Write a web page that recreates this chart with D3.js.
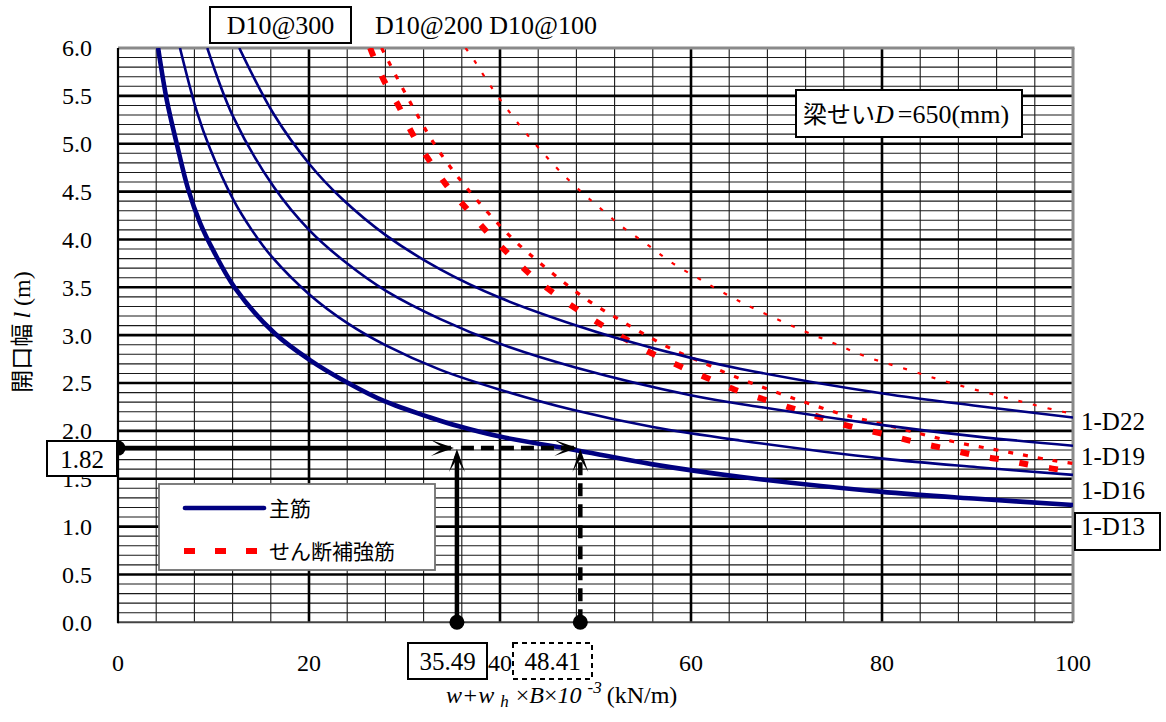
<!DOCTYPE html>
<html>
<head>
<meta charset="utf-8">
<script src="https://cdn.jsdelivr.net/npm/d3@7"></script>
<style>
  html, body { margin: 0; padding: 0; background: #fff; }
  svg { display: block; }
</style>
</head>
<body>
<svg id="chart" width="1166" height="722"></svg>
<script>
// Axis tick labels
const xTickValues = [0, 20, 40, 60, 80, 100];
const xTickLabels = ["0", "20", "40", "60", "80", "100"];
const yTickValues = [0, 0.5, 1, 1.5, 2, 2.5, 3, 3.5, 4, 4.5, 5, 5.5, 6];
const yTickLabels = ["0.0", "0.5", "1.0", "1.5", "2.0", "2.5", "3.0", "3.5", "4.0", "4.5", "5.0", "5.5", "6.0"];

// Main bar curves [load w (kN/m), opening width l (m)]
const mainD13 = [[4.2, 6.0], [5.1, 5.46], [6.15, 5.0], [7.36, 4.52], [8.6, 4.17], [10.0, 3.88], [12.2, 3.5],
  [16.4, 3.02], [20.1, 2.74], [24.1, 2.50], [27.9, 2.31], [32.7, 2.14], [35.6, 2.05], [40.0, 1.94],
  [48.4, 1.79], [56.0, 1.65], [65.1, 1.52], [79.8, 1.365], [90.0, 1.29], [100, 1.226]];
const mainD16 = [[6.49, 6.0], [8.24, 5.34], [9.63, 4.95], [12.1, 4.41], [14.0, 4.10], [16.1, 3.82], [20.1, 3.42],
  [24.1, 3.12], [28.1, 2.89], [33.7, 2.64], [40.0, 2.43], [47.6, 2.22], [56.0, 2.04], [65.1, 1.90],
  [80.1, 1.71], [90.0, 1.62], [100, 1.54]];
const mainD19 = [[9.35, 6.0], [12.07, 5.28], [16.3, 4.55], [20.1, 4.09], [24.1, 3.74], [28.1, 3.46], [33.7, 3.17],
  [40.0, 2.91], [48.0, 2.66], [60.1, 2.37], [67.2, 2.25], [80.1, 2.06], [90.0, 1.94], [100, 1.845]];
const mainD22 = [[12.7, 6.0], [16.3, 5.31], [20.1, 4.78], [23.4, 4.43], [28.1, 4.04], [33.7, 3.69], [40.0, 3.39],
  [48.0, 3.10], [52.2, 2.97], [60.1, 2.76], [65.1, 2.65], [80.1, 2.39], [90.0, 2.26], [100, 2.14]];

// Shear reinforcement curves
const shear300 = [[26.4, 6.0], [27.8, 5.67], [29.4, 5.39], [30.9, 5.09], [32.7, 4.81], [34.6, 4.54], [36.7, 4.30],
  [38.9, 4.05], [41.2, 3.82], [43.8, 3.58], [46.6, 3.37], [49.3, 3.19], [52.1, 3.02], [55.1, 2.85],
  [58.3, 2.70], [61.5, 2.56], [64.6, 2.43], [67.9, 2.32], [71.1, 2.22], [74.2, 2.12], [77.3, 2.03],
  [80.5, 1.96], [83.6, 1.88], [86.9, 1.81], [90.0, 1.74], [93.2, 1.69], [96.3, 1.63], [100, 1.575]];
const shear200 = [[27.6, 6.0], [29.8, 5.58], [31.4, 5.29], [33.1, 5.0], [35.0, 4.73], [37.0, 4.48], [39.1, 4.24],
  [41.5, 3.99], [44.0, 3.77], [46.7, 3.55], [49.4, 3.35], [52.2, 3.18], [55.1, 3.01], [58.1, 2.85],
  [61.3, 2.71], [64.5, 2.57], [69.3, 2.39], [72.5, 2.28], [75.6, 2.18], [78.8, 2.10], [82.1, 2.02],
  [85.2, 1.94], [88.3, 1.87], [91.5, 1.81], [94.7, 1.75], [97.9, 1.69], [100, 1.66]];
const shear100 = [[36.4, 6.0], [37.3, 5.87], [39.1, 5.59], [42.0, 5.20], [44.1, 4.95], [46.3, 4.71], [48.7, 4.48],
  [50.1, 4.36], [52.7, 4.14], [55.5, 3.94], [58.1, 3.75], [61.0, 3.58], [64.0, 3.41], [67.0, 3.26],
  [71.9, 3.04], [75.1, 2.91], [78.2, 2.78], [83.0, 2.63], [86.2, 2.53], [89.4, 2.44], [92.5, 2.36],
  [95.6, 2.28], [98.9, 2.20], [100, 2.18]];

// Worked example
const exampleL = 1.82;
const exampleW1 = 35.49;
const exampleW2 = 48.41;

const rightLabels = ["1-D22", "1-D19", "1-D16", "1-D13"];
const rightLabelValues = [2.10, 1.74, 1.38, 1.00];

const SERIF = "'Liberation Serif', 'Times New Roman', Times, 'DejaVu Serif', serif";
const JP = "'Noto Sans CJK JP', 'Noto Sans', sans-serif";

const svg = d3.select("#chart");
const x = d3.scaleLinear().domain([0, 100]).range([118, 1073]);
const y = d3.scaleLinear().domain([0, 6]).range([622.3, 48]);

const plot = svg.append("g");

// grid
const minorY = d3.range(1, 60).filter(i => i % 5 !== 0).map(i => i / 10);
plot.selectAll("line.hmin").data(minorY).join("line")
  .attr("x1", x(0)).attr("x2", x(100))
  .attr("y1", d => y(d)).attr("y2", d => y(d))
  .attr("stroke", "#1a1a1a").attr("stroke-width", 1.1);
const minorX = d3.range(4, 100, 4).filter(v => v % 20 !== 0);
plot.selectAll("line.vmin").data(minorX).join("line")
  .attr("x1", d => x(d)).attr("x2", d => x(d))
  .attr("y1", y(0)).attr("y2", y(6))
  .attr("stroke", "#1a1a1a").attr("stroke-width", 1.1);
plot.selectAll("line.hmaj").data(yTickValues.filter(v => v > 0 && v < 6)).join("line")
  .attr("x1", x(0)).attr("x2", x(100))
  .attr("y1", d => y(d)).attr("y2", d => y(d))
  .attr("stroke", "#000").attr("stroke-width", 2.6);
plot.selectAll("line.vmaj").data([20, 40, 60, 80]).join("line")
  .attr("x1", d => x(d)).attr("x2", d => x(d))
  .attr("y1", y(0)).attr("y2", y(6))
  .attr("stroke", "#000").attr("stroke-width", 2.6);

// frame
plot.append("line").attr("x1", x(0)).attr("x2", x(100) + 1.5).attr("y1", y(6)).attr("y2", y(6))
  .attr("stroke", "#8a8a8a").attr("stroke-width", 3);
plot.append("line").attr("x1", x(100)).attr("x2", x(100)).attr("y1", y(6)).attr("y2", y(0))
  .attr("stroke", "#8a8a8a").attr("stroke-width", 3);
plot.append("line").attr("x1", x(0)).attr("x2", x(100)).attr("y1", y(0)).attr("y2", y(0))
  .attr("stroke", "#444").attr("stroke-width", 2);
plot.append("line").attr("x1", x(0)).attr("x2", x(0)).attr("y1", y(6)).attr("y2", y(0) + 1)
  .attr("stroke", "#000").attr("stroke-width", 2.2);

// curves
svg.append("clipPath").attr("id", "plotClip").append("rect")
  .attr("x", x(0)).attr("y", y(6)).attr("width", x(100) - x(0)).attr("height", y(0) - y(6));
const line = d3.line().x(d => x(d[0])).y(d => y(d[1])).curve(d3.curveCatmullRom.alpha(0.5));
const curves = plot.append("g").attr("clip-path", "url(#plotClip)");

const shearSeries = [
  { data: shear100, width: 2.2, dash: "4,11" },
  { data: shear200, width: 3.2, dash: "5,10" },
  { data: shear300, width: 6, dash: "9,21" }
];
curves.selectAll("path.shear").data(shearSeries).join("path")
  .attr("d", d => line(d.data)).attr("fill", "none")
  .attr("stroke", "#ff0000").attr("stroke-width", d => d.width)
  .attr("stroke-dasharray", d => d.dash);

const mainSeries = [
  { data: mainD22, width: 2.6 },
  { data: mainD19, width: 2.6 },
  { data: mainD16, width: 2.6 },
  { data: mainD13, width: 4.6 }
];
curves.selectAll("path.main").data(mainSeries).join("path")
  .attr("d", d => line(d.data)).attr("fill", "none")
  .attr("stroke", "#000080").attr("stroke-width", d => d.width);

// tick labels
svg.append("g").selectAll("text").data(yTickValues).join("text")
  .attr("font-family", SERIF).attr("x", 92).attr("y", d => y(d)).attr("dy", "0.35em")
  .attr("text-anchor", "end").attr("font-size", 24)
  .text((d, i) => yTickLabels[i]);
svg.append("g").selectAll("text").data(xTickValues).join("text")
  .attr("font-family", SERIF).attr("x", d => x(d)).attr("y", 671)
  .attr("text-anchor", "middle").attr("font-size", 24)
  .text((d, i) => xTickLabels[i]);

// axis titles
const yTitle = svg.append("text").attr("transform", "translate(30,332) rotate(-90)")
  .attr("text-anchor", "middle").attr("font-size", 24);
yTitle.append("tspan").attr("font-family", JP).attr("font-size", 23).text("開口幅 ");
yTitle.append("tspan").attr("font-family", SERIF).attr("font-style", "italic").text("l");
yTitle.append("tspan").attr("font-family", SERIF).text(" (m)");

const xTitle = svg.append("text").attr("x", 446).attr("y", 703).attr("font-size", 24).attr("font-family", SERIF);
xTitle.append("tspan").attr("font-style", "italic").text("w+w");
xTitle.append("tspan").attr("font-style", "italic").attr("font-size", 17).attr("dx", 6).attr("dy", 4).text("h");
xTitle.append("tspan").attr("dy", -4).attr("dx", 7).text("×");
xTitle.append("tspan").attr("font-style", "italic").text("B");
xTitle.append("tspan").text("×");
xTitle.append("tspan").attr("font-style", "italic").text("10");
xTitle.append("tspan").attr("font-style", "italic").attr("font-size", 17).attr("dx", 6).attr("dy", -10).text("-3");
xTitle.append("tspan").attr("dy", 10).attr("dx", 5).text("(kN/m)");

// series labels above the plot
svg.append("rect").attr("x", 210).attr("y", 7).attr("width", 141).attr("height", 36)
  .attr("fill", "#fff").attr("stroke", "#000").attr("stroke-width", 2);
svg.append("text").attr("font-family", SERIF).attr("x", 280.5).attr("y", 34).attr("text-anchor", "middle")
  .attr("font-size", 26).text("D10@300");
svg.append("text").attr("font-family", SERIF).attr("x", 375).attr("y", 34).attr("font-size", 26)
  .text("D10@200 D10@100");

// beam depth note
svg.append("rect").attr("x", 796).attr("y", 90).attr("width", 226).attr("height", 47)
  .attr("fill", "#fff").attr("stroke", "#000").attr("stroke-width", 2);
const note = svg.append("text").attr("x", 803).attr("y", 123).attr("font-size", 26);
note.append("tspan").attr("font-family", JP).attr("font-size", 24).text("梁せい");
note.append("tspan").attr("font-family", SERIF).attr("font-style", "italic").text("D");
note.append("tspan").attr("font-family", SERIF).attr("dx", 4).text("=650(mm)");

// right-hand labels
svg.append("g").selectAll("text").data(rightLabels).join("text")
  .attr("font-family", SERIF).attr("x", 1081).attr("y", (d, i) => y(rightLabelValues[i])).attr("dy", "0.35em")
  .attr("font-size", 25).text(d => d);
svg.append("rect").attr("x", 1075).attr("y", 513).attr("width", 85).attr("height", 37)
  .attr("fill", "none").attr("stroke", "#000").attr("stroke-width", 2);

// legend
const lg = svg.append("g");
lg.append("rect").attr("x", 159).attr("y", 484).attr("width", 276).attr("height", 86)
  .attr("fill", "#fff").attr("stroke", "#707070").attr("stroke-width", 1.8);
lg.append("line").attr("x1", 185).attr("x2", 264).attr("y1", 508).attr("y2", 508)
  .attr("stroke", "#000080").attr("stroke-width", 4.6).attr("stroke-linecap", "round");
lg.append("line").attr("x1", 184).attr("x2", 257).attr("y1", 551).attr("y2", 551)
  .attr("stroke", "#ff0000").attr("stroke-width", 6).attr("stroke-dasharray", "11,20");
lg.append("text").attr("font-family", JP).attr("x", 269).attr("y", 508).attr("dy", "0.36em")
  .attr("font-size", 21).text("主筋");
lg.append("text").attr("font-family", JP).attr("x", 269).attr("y", 551).attr("dy", "0.36em")
  .attr("font-size", 21).text("せん断補強筋");

// worked example arrows
const ann = svg.append("g");
function arrowHead(tx, ty, angle) {
  ann.append("path").attr("d", "M0,0 L-23,-8 L-10,0 L-23,8 Z")
    .attr("transform", `translate(${tx},${ty}) rotate(${angle})`)
    .attr("fill", "#000");
}
const yL = y(exampleL);
ann.append("line").attr("x1", x(0)).attr("x2", x(exampleW1) - 6).attr("y1", yL).attr("y2", yL)
  .attr("stroke", "#000").attr("stroke-width", 4.5);
arrowHead(x(exampleW1) - 3, yL, 0);
ann.append("line").attr("x1", x(exampleW1) + 4).attr("x2", x(exampleW2) - 6).attr("y1", yL).attr("y2", yL)
  .attr("stroke", "#000").attr("stroke-width", 4.5).attr("stroke-dasharray", "13,7");
arrowHead(x(exampleW2) - 3, yL, 0);
ann.append("line").attr("x1", x(exampleW1)).attr("x2", x(exampleW1)).attr("y1", y(0)).attr("y2", yL + 8)
  .attr("stroke", "#000").attr("stroke-width", 4.5);
arrowHead(x(exampleW1), yL + 1, -90);
ann.append("line").attr("x1", x(exampleW2)).attr("x2", x(exampleW2)).attr("y1", y(0)).attr("y2", yL + 10)
  .attr("stroke", "#000").attr("stroke-width", 4.5).attr("stroke-dasharray", "13,8");
arrowHead(x(exampleW2), yL + 1, -90);
ann.selectAll("circle").data([[0, exampleL], [exampleW1, 0], [exampleW2, 0]]).join("circle")
  .attr("cx", d => x(d[0])).attr("cy", d => y(d[1])).attr("r", 7.5).attr("fill", "#000");

// value boxes
svg.append("rect").attr("x", 47).attr("y", 441).attr("width", 70).attr("height", 35)
  .attr("fill", "#fff").attr("stroke", "#000").attr("stroke-width", 2);
svg.append("text").attr("font-family", SERIF).attr("x", 82).attr("y", 459).attr("dy", "0.35em")
  .attr("text-anchor", "middle").attr("font-size", 25).text(exampleL.toFixed(2));
svg.append("rect").attr("x", 408).attr("y", 643).attr("width", 79).attr("height", 36)
  .attr("fill", "#fff").attr("stroke", "#000").attr("stroke-width", 2);
svg.append("text").attr("font-family", SERIF).attr("x", 447.5).attr("y", 661).attr("dy", "0.35em")
  .attr("text-anchor", "middle").attr("font-size", 25).text(exampleW1.toFixed(2));
svg.append("rect").attr("x", 513).attr("y", 643).attr("width", 79).attr("height", 36)
  .attr("fill", "#fff").attr("stroke", "#000").attr("stroke-width", 2).attr("stroke-dasharray", "5,4");
svg.append("text").attr("font-family", SERIF).attr("x", 552.5).attr("y", 661).attr("dy", "0.35em")
  .attr("text-anchor", "middle").attr("font-size", 25).text(exampleW2.toFixed(2));
</script>
</body>
</html>
